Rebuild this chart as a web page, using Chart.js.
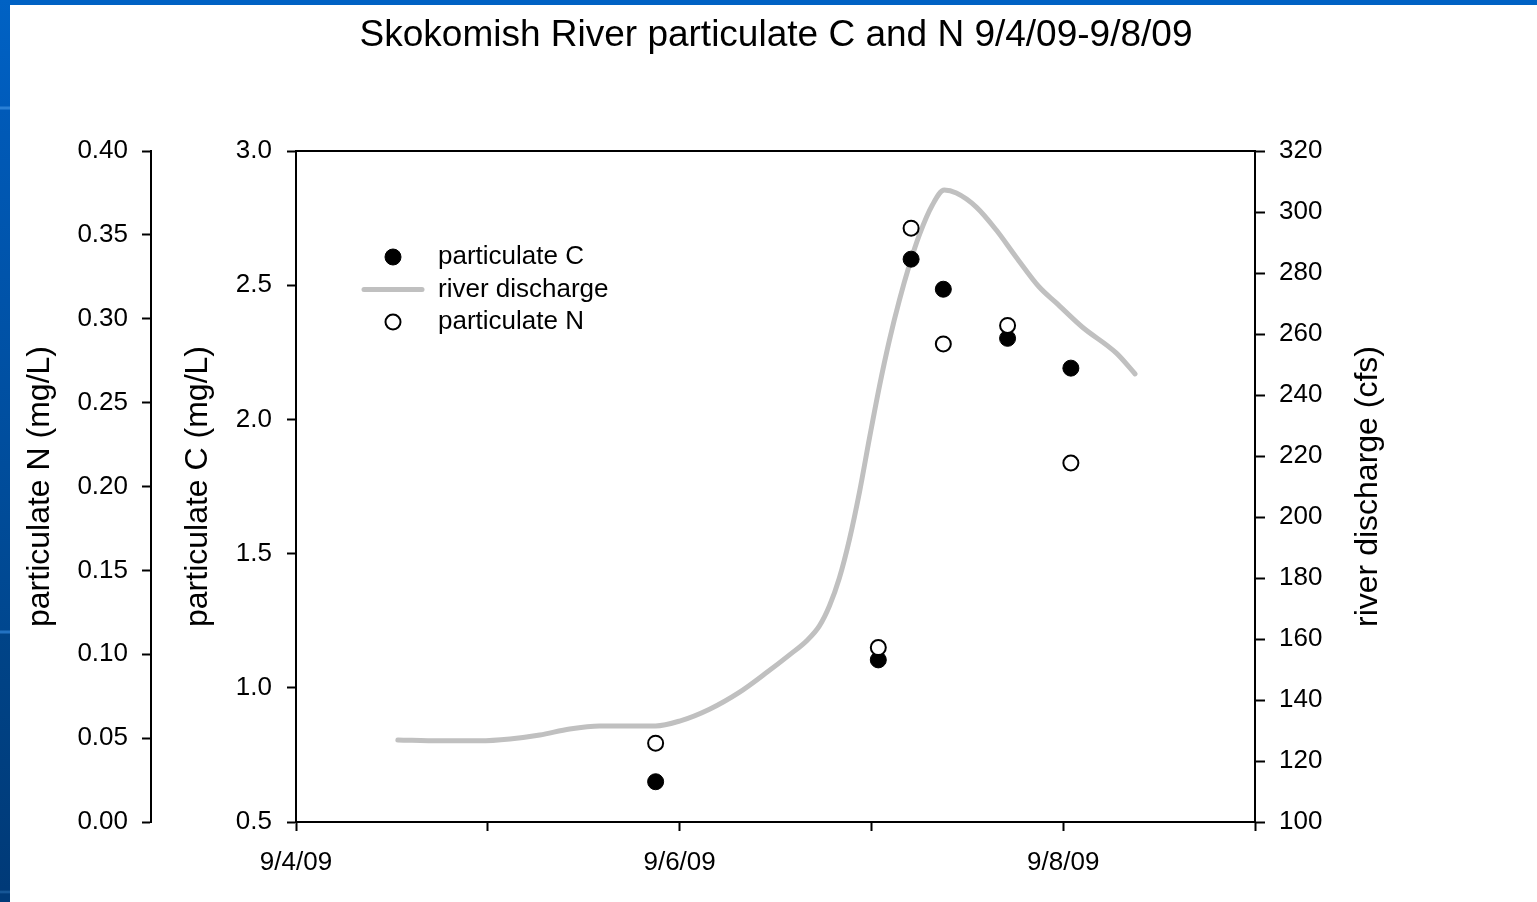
<!DOCTYPE html>
<html>
<head>
<meta charset="utf-8">
<title>Skokomish River particulate C and N</title>
<script src="https://cdn.jsdelivr.net/npm/chart.js@4.4.0/dist/chart.umd.min.js"></script>
<style>
    html, body { margin: 0; padding: 0; background: #fff; overflow: hidden; }
    #frame-top { position: absolute; left: 0; top: 0; width: 1537px; height: 5px; background: #0062c4; }
    #frame-left {
        position: absolute; left: 0; top: 0; width: 10px; height: 902px;
        background: linear-gradient(to bottom,
            #0062c4 0px, #005cbc 106px, #2a80d6 107px, #2a80d6 109px, #005ab8 110px,
            #00478f 630px, #2272c2 631px, #2272c2 633px, #004488 634px,
            #003a78 890px, #1d5fa0 892px, #003a78 894px);
    }
    #chart-wrap { position: absolute; left: 0; top: 0; width: 1537px; height: 902px; }
</style>
</head>
<body>
<div id="frame-top"></div>
<div id="frame-left"></div>
<div id="chart-wrap"><canvas id="particulate-chart" width="1537" height="902"></canvas></div>
<script>
// Sampling times, in days after 9/4/09 00:00
const sampleDays = [1.875, 3.036, 3.207, 3.375, 3.710, 4.040];
const particulateC = [0.650, 1.104, 2.597, 2.485, 2.302, 2.191];   // mg/L
const particulateN = [0.047, 0.104, 0.354, 0.285, 0.296, 0.214];   // mg/L

// River discharge record (days after 9/4/09, cfs)
const dischargeDays = [
    0.531, 0.750, 0.958, 1.115, 1.271, 1.427, 1.583, 1.740, 1.875, 2.000,
    2.156, 2.313, 2.443, 2.573, 2.667, 2.729, 2.781, 2.833, 2.885, 2.938,
    2.990, 3.042, 3.094, 3.146, 3.198, 3.250, 3.318, 3.380, 3.443, 3.547,
    3.651, 3.755, 3.875, 3.964, 4.099, 4.276, 4.375
];
const dischargeCfs = [
    126.9, 126.6, 126.6, 127.2, 128.5, 130.5, 131.5, 131.5, 131.5, 133.1,
    137.0, 142.6, 148.5, 154.8, 159.7, 164.3, 170.8, 180.0, 192.5, 208.2,
    225.9, 242.9, 258.0, 271.1, 282.6, 292.5, 302.3, 307.2, 306.2, 301.6,
    294.1, 285.2, 275.4, 270.2, 262.3, 253.8, 246.9
];

// Date tick labels, one per day; only every second one is printed
const dateLabels = ['9/4/09', '9/5/09', '9/6/09', '9/7/09', '9/8/09', '9/9/09'];

(function() {
    'use strict';

    const FONT_FAMILY = '"Liberation Sans", Arial, Helvetica, sans-serif';
    const INK = '#000000';

    // Legend rows, in the order they are listed
    const legendOrder = [0, 1, 2];

    /**
     * Pair up x and y arrays into point objects
     */
    function toPoints(xs, ys) {
        return xs.map(function(x, i) {
            return { x: x, y: ys[i] };
        });
    }

    /**
     * Shared styling for the black axis lines and tick marks
     */
    function axisLine(tickLength) {
        return {
            grid: {
                drawOnChartArea: false,
                drawTicks: true,
                tickLength: tickLength,
                tickColor: INK,
                tickWidth: 2
            },
            border: { display: true, color: INK, width: 2 }
        };
    }

    /**
     * Legend drawn inside the plot area, upper left
     */
    const insideLegend = {
        id: 'insideLegend',
        afterDatasetsDraw(chart) {
            const { ctx, chartArea } = chart;
            const markerX = chartArea.left + 97;
            const textX = chartArea.left + 142;
            let y = chartArea.top + 106;

            ctx.save();
            ctx.font = '26px ' + FONT_FAMILY;
            ctx.textBaseline = 'middle';
            ctx.textAlign = 'left';

            legendOrder.forEach(function(index) {
                const ds = chart.data.datasets[index];
                if (ds.showLine) {
                    ctx.strokeStyle = ds.borderColor;
                    ctx.lineWidth = ds.borderWidth;
                    ctx.lineCap = 'round';
                    ctx.beginPath();
                    ctx.moveTo(markerX - 29, y);
                    ctx.lineTo(markerX + 29, y);
                    ctx.stroke();
                } else {
                    ctx.beginPath();
                    ctx.arc(markerX, y, ds.pointRadius, 0, Math.PI * 2);
                    ctx.fillStyle = ds.pointBackgroundColor;
                    ctx.fill();
                    ctx.lineWidth = ds.pointBorderWidth;
                    ctx.strokeStyle = ds.pointBorderColor;
                    ctx.stroke();
                }
                ctx.fillStyle = INK;
                ctx.fillText(ds.label, textX, y);
                y += 32.5;
            });
            ctx.restore();
        }
    };

    /**
     * Right-hand axis title, reading bottom to top like the left ones
     */
    const rightAxisTitle = {
        id: 'rightAxisTitle',
        afterDraw(chart) {
            const { ctx, chartArea } = chart;
            ctx.save();
            ctx.translate(chartArea.right + 113, (chartArea.top + chartArea.bottom) / 2);
            ctx.rotate(-Math.PI / 2);
            ctx.font = '32px ' + FONT_FAMILY;
            ctx.fillStyle = INK;
            ctx.textAlign = 'center';
            ctx.textBaseline = 'middle';
            ctx.fillText('river discharge (cfs)', 0, 0);
            ctx.restore();
        }
    };

    const ctx = document.getElementById('particulate-chart').getContext('2d');

    new Chart(ctx, {
        type: 'scatter',
        data: {
            datasets: [
                {
                    label: 'particulate C',
                    data: toPoints(sampleDays, particulateC),
                    yAxisID: 'yC',
                    order: 2,
                    pointRadius: 8,
                    pointBorderWidth: 1,
                    pointBackgroundColor: INK,
                    pointBorderColor: INK
                },
                {
                    label: 'river discharge',
                    data: toPoints(dischargeDays, dischargeCfs),
                    yAxisID: 'yQ',
                    order: 3,
                    showLine: true,
                    borderColor: '#c0c0c0',
                    borderWidth: 5,
                    cubicInterpolationMode: 'monotone',
                    borderCapStyle: 'round',
                    borderJoinStyle: 'round',
                    pointRadius: 0
                },
                {
                    label: 'particulate N',
                    data: toPoints(sampleDays, particulateN),
                    yAxisID: 'yN',
                    order: 1,
                    pointRadius: 7.5,
                    pointBorderWidth: 2,
                    pointBackgroundColor: '#ffffff',
                    pointBorderColor: INK
                }
            ]
        },
        options: {
            responsive: false,
            animation: false,
            events: [],
            layout: {
                padding: { left: 15, right: 0, top: 5, bottom: 10 }
            },
            plugins: {
                legend: { display: false },
                tooltip: { enabled: false },
                title: {
                    display: true,
                    text: 'Skokomish River particulate C and N 9/4/09-9/8/09',
                    color: INK,
                    font: { family: FONT_FAMILY, size: 37, weight: 'normal' },
                    padding: { top: 9, bottom: 92.6 }
                }
            },
            scales: {
                x: Object.assign(axisLine(9), {
                    type: 'linear',
                    position: 'bottom',
                    min: 0,
                    max: dateLabels.length - 1,
                    ticks: {
                        stepSize: 1,
                        autoSkip: false,
                        maxRotation: 0,
                        padding: 16,
                        color: INK,
                        font: { family: FONT_FAMILY, size: 26 },
                        callback: function(value) {
                            return value % 2 === 0 ? dateLabels[value] : '';
                        }
                    },
                    afterFit: function(scale) { scale.height = 70; }
                }),
                xTop: {
                    type: 'linear',
                    position: 'top',
                    min: 0,
                    max: dateLabels.length - 1,
                    ticks: { display: false },
                    grid: { drawOnChartArea: false, drawTicks: false },
                    border: { display: true, color: INK, width: 2 },
                    afterFit: function(scale) { scale.height = 0; }
                },
                yN: Object.assign(axisLine(9), {
                    type: 'linear',
                    position: 'left',
                    weight: 1,
                    min: 0,
                    max: 0.4,
                    ticks: {
                        stepSize: 0.05,
                        padding: 14,
                        color: INK,
                        font: { family: FONT_FAMILY, size: 26 },
                        callback: function(value) { return value.toFixed(2); }
                    },
                    title: {
                        display: true,
                        text: 'particulate N (mg/L)',
                        color: INK,
                        font: { family: FONT_FAMILY, size: 32 },
                        padding: { top: 6, bottom: 0 }
                    },
                    afterFit: function(scale) { scale.width = 136; }
                }),
                yC: Object.assign(axisLine(9), {
                    type: 'linear',
                    position: 'left',
                    weight: 0,
                    min: 0.5,
                    max: 3.0,
                    ticks: {
                        stepSize: 0.5,
                        padding: 15,
                        color: INK,
                        font: { family: FONT_FAMILY, size: 26 },
                        callback: function(value) { return value.toFixed(1); }
                    },
                    title: {
                        display: true,
                        text: 'particulate C (mg/L)',
                        color: INK,
                        font: { family: FONT_FAMILY, size: 32 },
                        padding: { top: 28, bottom: 0 }
                    },
                    afterFit: function(scale) { scale.width = 145; }
                }),
                yQ: Object.assign(axisLine(10), {
                    type: 'linear',
                    position: 'right',
                    min: 100,
                    max: 320,
                    ticks: {
                        stepSize: 20,
                        padding: 14,
                        color: INK,
                        font: { family: FONT_FAMILY, size: 26 }
                    },
                    afterFit: function(scale) { scale.width = 282; }
                })
            }
        },
        plugins: [insideLegend, rightAxisTitle]
    });
})();
</script>
</body>
</html>
